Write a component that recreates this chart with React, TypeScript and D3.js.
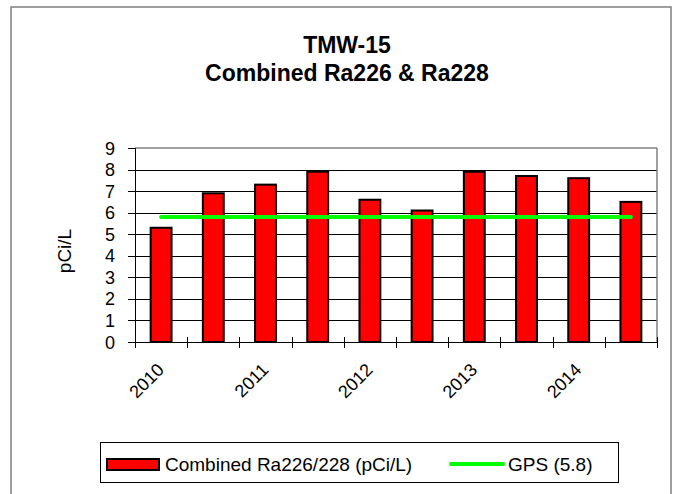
import React from "react";
import * as d3 from "d3";

const sampleLabels = ["2010", "", "2011", "", "2012", "", "2013", "", "2014", ""];
const combinedValues = [5.3, 6.9, 7.3, 7.9, 6.6, 6.1, 7.9, 7.7, 7.6, 6.5];
const gpsValues = [5.8, 5.8, 5.8, 5.8, 5.8, 5.8, 5.8, 5.8, 5.8, 5.8];
const yTicks = [0, 1, 2, 3, 4, 5, 6, 7, 8, 9];
const titleLines = ["TMW-15", "Combined Ra226 & Ra228"];
const yAxisTitle = "pCi/L";
const legendLabels = ["Combined Ra226/228 (pCi/L)", "GPS (5.8)"];

const W = 673;
const H = 494;
const FONT = "Arial, 'Liberation Sans', Helvetica, sans-serif";

export default function App() {
  const plot = { left: 135, right: 657, top: 148, bottom: 342 };
  const idx = sampleLabels.map((_, i) => i);
  const x = d3
    .scaleBand<number>()
    .domain(idx)
    .range([plot.left, plot.right])
    .paddingInner(0.6)
    .paddingOuter(0.3);
  const step = x.step();
  const y = d3.scaleLinear().domain([0, 9]).range([plot.bottom, plot.top]);
  const center = (i: number) => (x(i) as number) + x.bandwidth() / 2;

  const gpsLine = d3
    .line<number>()
    .x((_, i) => center(i))
    .y((d) => y(d));

  const boundaries = d3.range(sampleLabels.length + 1).map((i) => plot.left + i * step);

  return (
    <svg
      width={W}
      height={H}
      style={{ position: "absolute", left: 0, top: 0, background: "#fff" }}
      fontFamily={FONT}
    >
      <rect x={0} y={0} width={W} height={H} fill="#fff" />
      {/* outer chart border */}
      <rect x={11} y={7} width={660} height={500} fill="none" stroke="#7f7f7f" strokeWidth={1.5} />

      {/* title */}
      {titleLines.map((t, i) => (
        <text
          key={i}
          x={347}
          y={53 + i * 28}
          textAnchor="middle"
          fontSize={23}
          fontWeight="bold"
          fill="#000"
        >
          {t}
        </text>
      ))}

      {/* gridlines */}
      {yTicks.slice(1, -1).map((t) => (
        <line
          key={t}
          x1={plot.left}
          x2={plot.right}
          y1={Math.round(y(t)) + 0.5}
          y2={Math.round(y(t)) + 0.5}
          stroke="#000"
          strokeWidth={1}
        />
      ))}
      {/* plot border top/right */}
      <line x1={plot.left} x2={plot.right} y1={plot.top} y2={plot.top} stroke="#808080" strokeWidth={1.5} />
      <line x1={plot.right} x2={plot.right} y1={plot.top} y2={plot.bottom} stroke="#808080" strokeWidth={1.5} />

      {/* bars */}
      {combinedValues.map((v, i) => (
        <rect
          key={i}
          x={x(i)}
          y={y(v)}
          width={x.bandwidth()}
          height={y(0) - y(v)}
          fill="#ff0000"
          stroke="#000"
          strokeWidth={2}
        />
      ))}

      {/* GPS line */}
      <path
        d={gpsLine(gpsValues) || ""}
        fill="none"
        stroke="#00ff00"
        strokeWidth={4}
        strokeLinecap="round"
      />

      {/* y axis */}
      <line x1={plot.left + 0.5} x2={plot.left + 0.5} y1={plot.top} y2={plot.bottom} stroke="#000" strokeWidth={1} />
      {yTicks.map((t) => (
        <g key={t}>
          <line
            x1={plot.left - 7}
            x2={plot.left}
            y1={Math.round(y(t)) + 0.5}
            y2={Math.round(y(t)) + 0.5}
            stroke="#000"
            strokeWidth={1}
          />
          <text x={115} y={y(t) + 6.5} textAnchor="end" fontSize={18} fill="#000">
            {t}
          </text>
        </g>
      ))}

      {/* x axis */}
      <line x1={plot.left} x2={plot.right} y1={plot.bottom + 0.5} y2={plot.bottom + 0.5} stroke="#000" strokeWidth={1} />
      {boundaries.map((bx, i) => (
        <line
          key={i}
          x1={Math.round(bx) + 0.5}
          x2={Math.round(bx) + 0.5}
          y1={plot.bottom - 5}
          y2={plot.bottom + 6}
          stroke="#000"
          strokeWidth={1}
        />
      ))}
      {sampleLabels.map((l, i) =>
        l ? (
          <text
            key={i}
            transform={`translate(${center(i) + 4},${plot.bottom + 29}) rotate(-45)`}
            textAnchor="end"
            fontSize={18}
            fill="#000"
          >
            {l}
          </text>
        ) : null
      )}

      {/* y axis title */}
      <text
        transform={`translate(71,251) rotate(-90)`}
        textAnchor="middle"
        fontSize={19}
        fill="#000"
      >
        {yAxisTitle}
      </text>

      {/* legend */}
      <rect x={100.5} y={442.5} width={518} height={40} fill="#fff" stroke="#000" strokeWidth={1} />
      <rect x={107} y={459} width={52} height={11} fill="#ff0000" stroke="#000" strokeWidth={2} />
      <text x={165} y={471} fontSize={19} fill="#000">
        {legendLabels[0]}
      </text>
      <line x1={451} x2={503} y1={464} y2={464} stroke="#00ff00" strokeWidth={4} strokeLinecap="round" />
      <text x={508} y={471} fontSize={19} fill="#000">
        {legendLabels[1]}
      </text>
    </svg>
  );
}
